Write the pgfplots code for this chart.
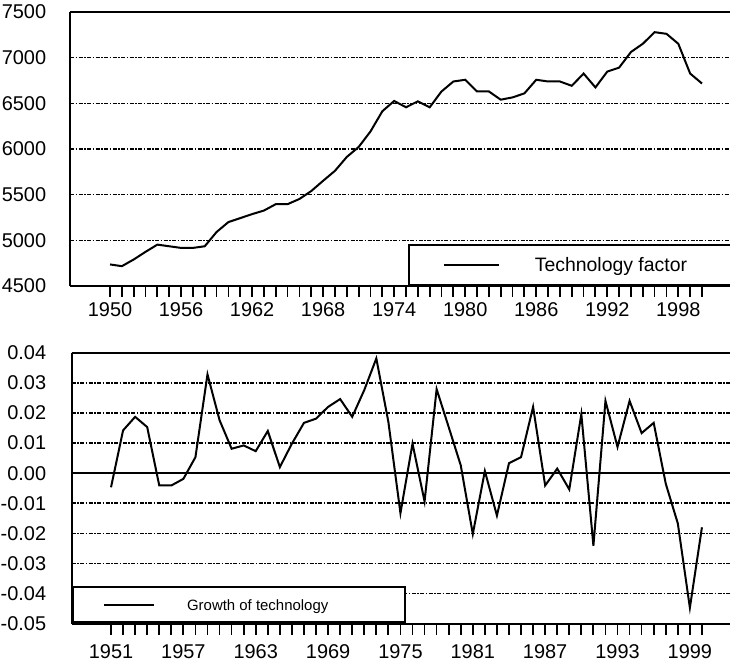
\documentclass[border=0pt]{standalone}
\usepackage{fontspec}
\setmainfont{Liberation Sans}
\usepackage{pgfplots}
\pgfplotsset{compat=1.18}
\begin{document}
\begin{tikzpicture}
\path[use as bounding box] (0,0) rectangle (730bp,664bp);
\pgfplotsset{
  common/.style={
    scale only axis,
    anchor=south west,
    axis y line*=left,
    axis line style={line width=2.2bp},
    xtick pos=bottom,
    tick align=outside,
    major tick length=11bp,
    minor tick length=11bp,
    every tick/.style={black, line width=1.8bp},
    ytick style={draw=none},
    ymajorgrids,
    major grid style={black, line width=1.6bp, dash pattern=on 4bp off 1.5bp on 1.5bp off 1.5bp},
    /pgf/number format/assume math mode=true,
    /pgf/number format/1000 sep={},
    ticklabel style={font=\fontsize{20}{20}\selectfont},
    xticklabel style={inner sep=0pt, anchor=north},
    legend cell align=left,
  }
}
% ---------- top ----------
\begin{axis}[common,
  at={(70bp,378bp)}, width=661bp, height=274bp,
  xmin=1946.62, xmax=2002.45, ymin=4500, ymax=7500,
  xtick={1950,1956,...,1998}, minor xtick={1950,...,2000},
  ytick={4500,5000,...,7500},
  yticklabel style={inner sep=0pt, anchor=east, xshift=-12.7bp},
  xticklabel style={yshift=-5bp},
  legend style={at={(0.5109,0)}, anchor=south west, draw=black, line width=2.2bp, fill=white,
    inner xsep=0pt, inner ysep=0pt, nodes={draw=none, inner sep=0pt, text depth=0pt},
    font=\fontsize{19.5}{20}\selectfont},
  legend image code/.code={\path[draw=none, fill=none] (0bp,-20bp) rectangle (126bp,20bp); \draw[black, line width=2bp, solid] (35bp,0bp) -- (90bp,0bp);},
]
\addplot[black, line width=2bp] coordinates {
(1950,4736) (1951,4717) (1952,4790) (1953,4874) (1954,4953) (1955,4935) (1956,4917) (1957,4917) (1958,4935) (1959,5091)
(1960,5200) (1961,5243) (1962,5287) (1963,5326) (1964,5396) (1965,5396) (1966,5453) (1967,5540) (1968,5652) (1969,5761)
(1970,5913) (1971,6022) (1972,6192) (1973,6413) (1974,6526) (1975,6457) (1976,6522) (1977,6457) (1978,6630) (1979,6739)
(1980,6758) (1981,6630) (1982,6630) (1983,6540) (1984,6565) (1985,6609) (1986,6758) (1987,6739) (1988,6739) (1989,6692)
(1990,6826) (1991,6674) (1992,6848) (1993,6891) (1994,7062) (1995,7152) (1996,7279) (1997,7261) (1998,7152) (1999,6826)
(2000,6717)};
\addlegendentry{\makebox[230bp][l]{Technology factor}}
\end{axis}
% ---------- bottom ----------
\begin{axis}[common,
  at={(71.7bp,40.3bp)}, width=659.3bp, height=271bp,
  xmin=1947.74, xmax=2002.41, ymin=-0.05, ymax=0.04,
  xtick={1951,1957,...,1999}, minor xtick={1951,...,2000},
  ytick={-0.05,-0.04,-0.03,-0.02,-0.01,0,0.01,0.02,0.03,0.04},
  scaled y ticks=false,
  yticklabel style={inner sep=0pt, anchor=east, xshift=-14.4bp,
    /pgf/number format/fixed, /pgf/number format/fixed zerofill, /pgf/number format/precision=2},
  xticklabel style={yshift=-10bp},
  extra y ticks={0}, extra y tick labels={},
  extra y tick style={grid=major, major grid style={solid, black, line width=2.2bp}},
  legend style={at={(0,0)}, anchor=south west, draw=black, line width=2.2bp, fill=white,
    inner xsep=0pt, inner ysep=0pt, nodes={draw=none, inner sep=0pt, text depth=0pt},
    font=\fontsize{15}{16}\selectfont},
  legend image code/.code={\path[draw=none, fill=none] (0bp,-17.85bp) rectangle (114.3bp,17.85bp); \draw[black, line width=2bp, solid] (31.6bp,0bp) -- (81bp,0bp);},
]
\addplot[black, line width=2bp] coordinates {
(1951,-0.0047) (1952,0.0142) (1953,0.0187) (1954,0.0153) (1955,-0.0041) (1956,-0.0041) (1957,-0.0019) (1958,0.0053) (1959,0.0328) (1960,0.0176)
(1961,0.0081) (1962,0.0092) (1963,0.0073) (1964,0.0140) (1965,0.0020) (1966,0.0098) (1967,0.0167) (1968,0.0181) (1969,0.0220) (1970,0.0246)
(1971,0.0187) (1972,0.0276) (1973,0.0381) (1974,0.0170) (1975,-0.0133) (1976,0.0098) (1977,-0.0094) (1978,0.0279) (1979,0.0153) (1980,0.0026)
(1981,-0.0202) (1982,0.0007) (1983,-0.0141) (1984,0.0033) (1985,0.0053) (1986,0.0220) (1987,-0.0041) (1988,0.0015) (1989,-0.0054) (1990,0.0196)
(1991,-0.0241) (1992,0.0240) (1993,0.0087) (1994,0.0240) (1995,0.0133) (1996,0.0167) (1997,-0.0035) (1998,-0.0167) (1999,-0.0447) (2000,-0.0180)};
\addlegendentry{\makebox[218bp][l]{Growth of technology}}
\end{axis}
\end{tikzpicture}
\end{document}
